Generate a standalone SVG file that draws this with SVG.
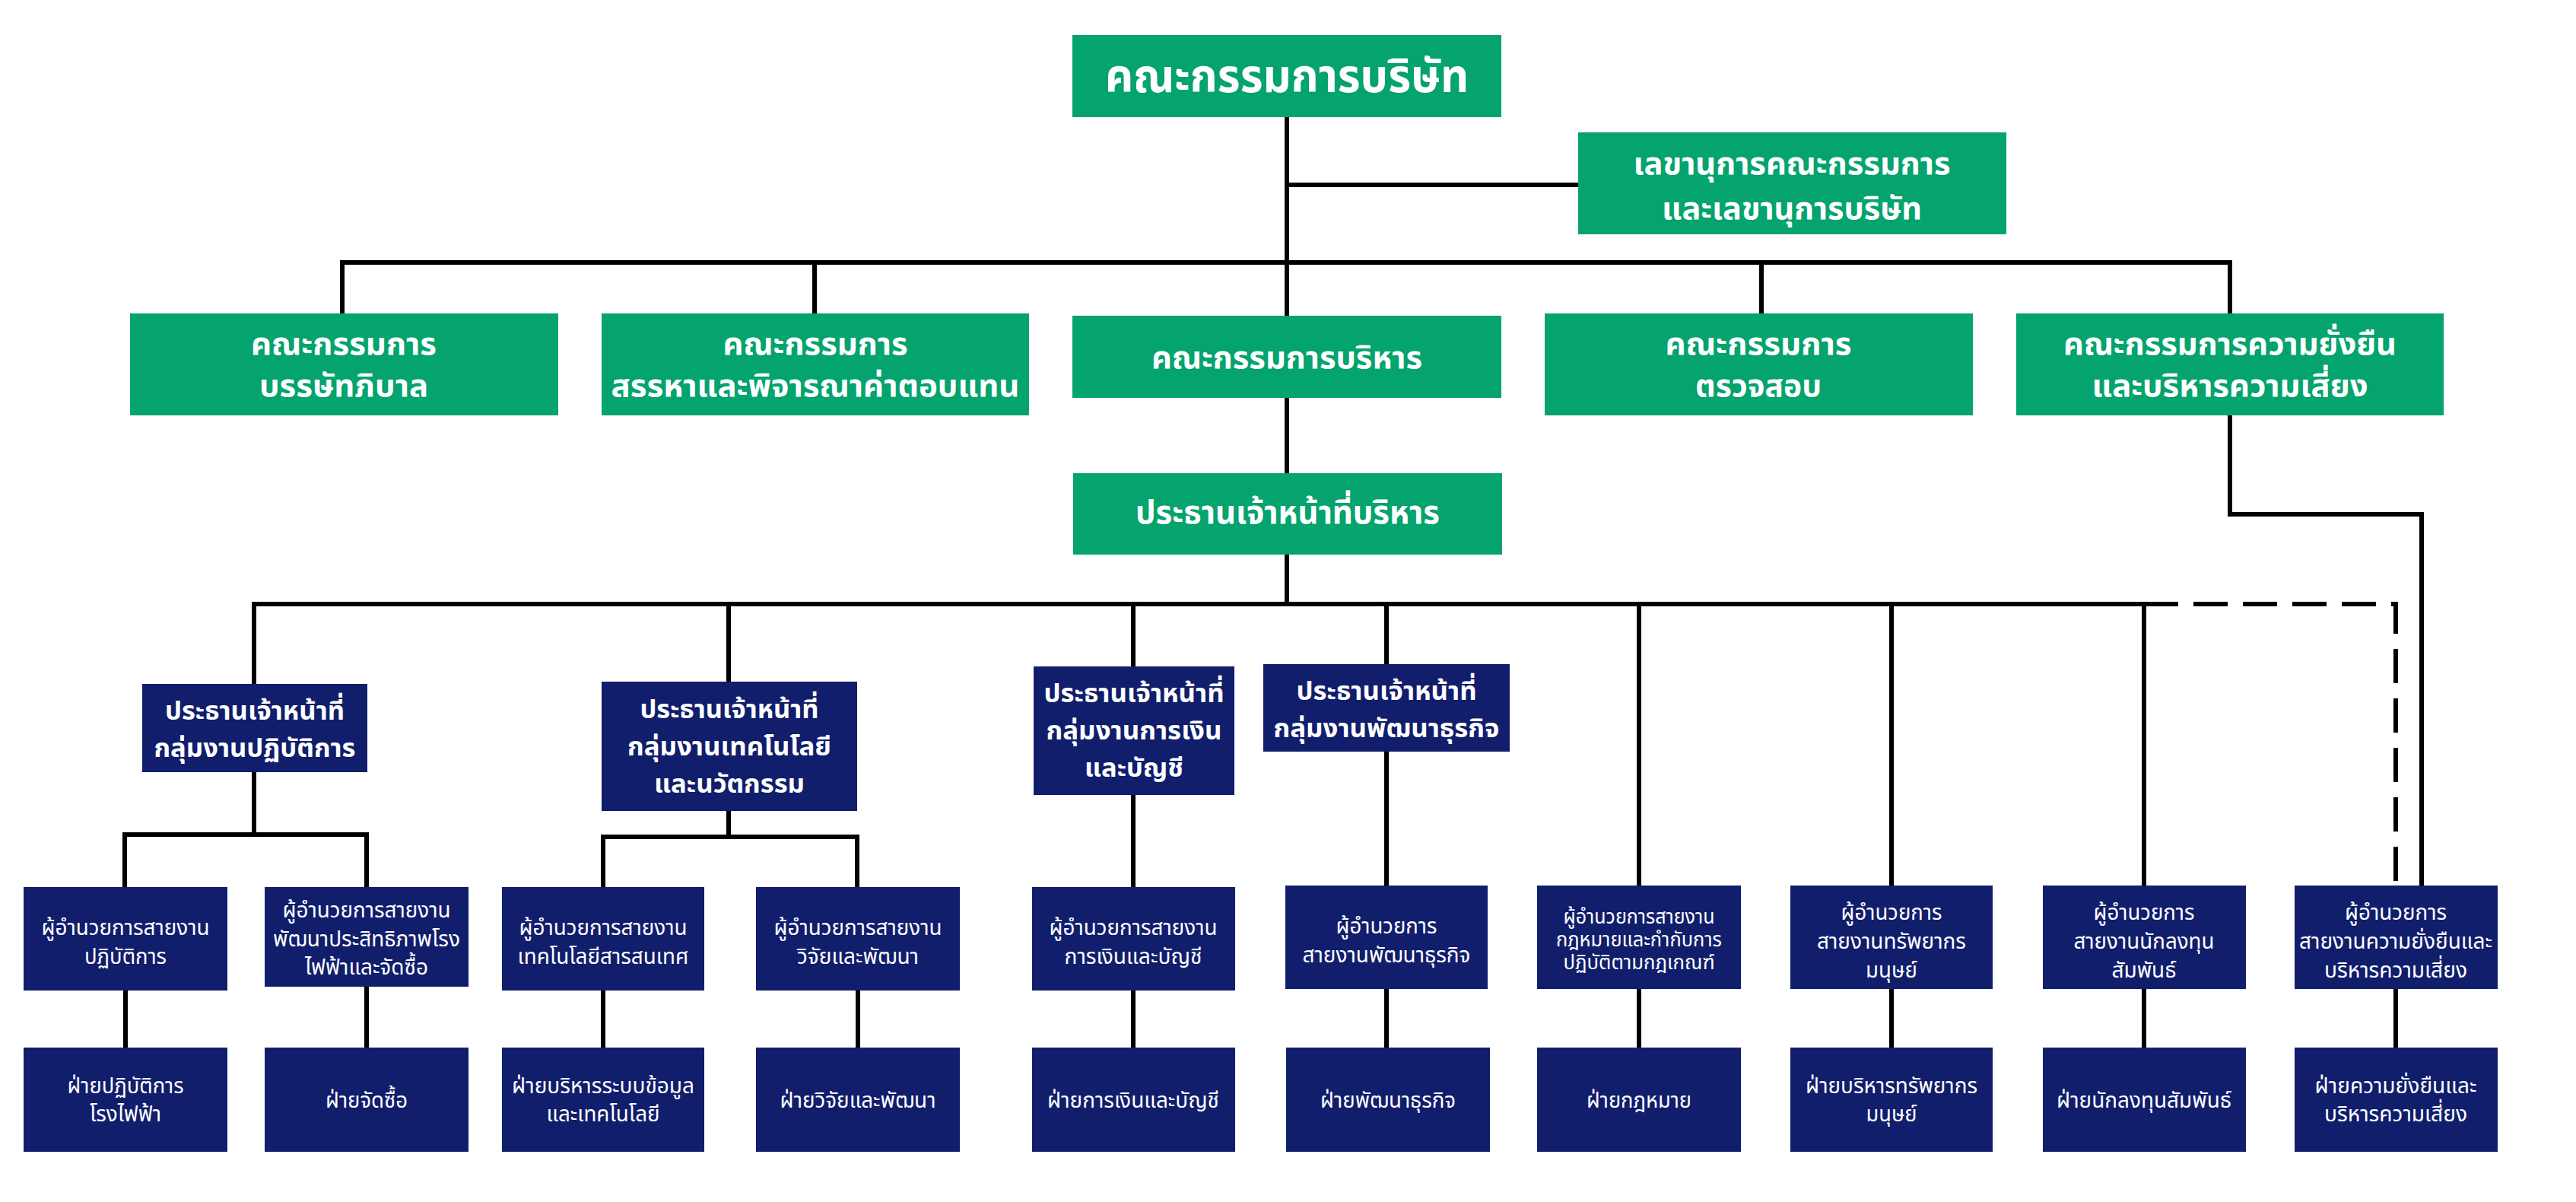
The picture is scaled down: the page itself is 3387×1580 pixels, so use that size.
<svg xmlns="http://www.w3.org/2000/svg" width="3387" height="1580" viewBox="0 0 3387 1580">
<style>
.bg{fill:#ffffff}
.g{fill:#05A36E}
.n{fill:#111E6C}
.t{fill:#ffffff;font-family:'Noto Sans Thai','Noto Sans Thai UI','Noto Sans','DejaVu Sans',sans-serif;text-anchor:middle}
.b{font-weight:bold}
.ln{fill:none;stroke:#000;stroke-width:6;stroke-linecap:square}
.dash{fill:none;stroke:#000;stroke-width:6;stroke-dasharray:45 20}
</style>
<rect class="bg" x="0" y="0" width="3387" height="1580"/>
<g id="connectors">
<path class="ln" d="M1692 154V415M1692 243H2075M450 345H2932M450 345V412M1071 345V412M2316 345V412M2932 345V412M1692 523V622M1692 729V794M334 794H2819M334 794V899M958 794V896M1490 794V876M1823 794V873M2155 794V1164M2487 794V1164M2819 794V1164"/>
<path class="dash" d="M2819 794H3150V1164"/>
<path class="ln" d="M2932 546V676H3184V1164"/>
<path class="ln" d="M334 1015V1097M164 1097H482M164 1097V1166M482 1097V1166M958 1066V1100M793 1100H1127M793 1100V1166M1127 1100V1166M1490 1045V1166M1823 988V1164"/>
<path class="ln" d="M165 1302V1377M482 1297V1377M793 1302V1377M1128 1302V1377M1490 1302V1377M1823 1300V1377M2155 1300V1377M2487 1300V1377M2819 1300V1377M3150 1300V1377"/>
</g>
<g id="board"><rect class="g" x="1410" y="46" width="564" height="108"/><text class="t b" x="1692" y="121" font-size="60" textLength="478" lengthAdjust="spacingAndGlyphs">คณะกรรมการบริษัท</text></g>
<g id="secretary"><rect class="g" x="2075" y="174" width="563" height="134"/><text class="t b" x="2356" y="229" font-size="40" textLength="417" lengthAdjust="spacingAndGlyphs">เลขานุการคณะกรรมการ</text><text class="t b" x="2356" y="288" font-size="40" textLength="342" lengthAdjust="spacingAndGlyphs">และเลขานุการบริษัท</text></g>
<g id="cg"><rect class="g" x="171" y="412" width="563" height="134"/><text class="t b" x="452" y="466" font-size="40" textLength="244" lengthAdjust="spacingAndGlyphs">คณะกรรมการ</text><text class="t b" x="452" y="521" font-size="40" textLength="222" lengthAdjust="spacingAndGlyphs">บรรษัทภิบาล</text></g>
<g id="nomination"><rect class="g" x="791" y="412" width="562" height="134"/><text class="t b" x="1072" y="466" font-size="40" textLength="243" lengthAdjust="spacingAndGlyphs">คณะกรรมการ</text><text class="t b" x="1072" y="521" font-size="40" textLength="537" lengthAdjust="spacingAndGlyphs">สรรหาและพิจารณาค่าตอบแทน</text></g>
<g id="exec"><rect class="g" x="1410" y="415" width="564" height="108"/><text class="t b" x="1692" y="484" font-size="40" textLength="356" lengthAdjust="spacingAndGlyphs">คณะกรรมการบริหาร</text></g>
<g id="audit"><rect class="g" x="2031" y="412" width="563" height="134"/><text class="t b" x="2312" y="466" font-size="40" textLength="245" lengthAdjust="spacingAndGlyphs">คณะกรรมการ</text><text class="t b" x="2312" y="521" font-size="40" textLength="166" lengthAdjust="spacingAndGlyphs">ตรวจสอบ</text></g>
<g id="sustain-committee"><rect class="g" x="2651" y="412" width="562" height="134"/><text class="t b" x="2932" y="466" font-size="40" textLength="438" lengthAdjust="spacingAndGlyphs">คณะกรรมการความยั่งยืน</text><text class="t b" x="2932" y="521" font-size="40" textLength="363" lengthAdjust="spacingAndGlyphs">และบริหารความเสี่ยง</text></g>
<g id="ceo"><rect class="g" x="1411" y="622" width="564" height="107"/><text class="t b" x="1693" y="688" font-size="42" textLength="400" lengthAdjust="spacingAndGlyphs">ประธานเจ้าหน้าที่บริหาร</text></g>
<g id="ceo-ops"><rect class="n" x="187" y="899" width="296" height="116"/><text class="t b" x="335" y="946" font-size="34" textLength="236" lengthAdjust="spacingAndGlyphs">ประธานเจ้าหน้าที่</text><text class="t b" x="335" y="995" font-size="34" textLength="265" lengthAdjust="spacingAndGlyphs">กลุ่มงานปฏิบัติการ</text></g>
<g id="ceo-tech"><rect class="n" x="791" y="896" width="336" height="170"/><text class="t b" x="959" y="944" font-size="34" textLength="235" lengthAdjust="spacingAndGlyphs">ประธานเจ้าหน้าที่</text><text class="t b" x="959" y="993" font-size="34" textLength="268" lengthAdjust="spacingAndGlyphs">กลุ่มงานเทคโนโลยี</text><text class="t b" x="959" y="1042" font-size="34" textLength="198" lengthAdjust="spacingAndGlyphs">และนวัตกรรม</text></g>
<g id="ceo-fin"><rect class="n" x="1359" y="876" width="264" height="169"/><text class="t b" x="1491" y="923" font-size="34" textLength="237" lengthAdjust="spacingAndGlyphs">ประธานเจ้าหน้าที่</text><text class="t b" x="1491" y="972" font-size="34" textLength="231" lengthAdjust="spacingAndGlyphs">กลุ่มงานการเงิน</text><text class="t b" x="1491" y="1021" font-size="34" textLength="130" lengthAdjust="spacingAndGlyphs">และบัญชี</text></g>
<g id="ceo-biz"><rect class="n" x="1661" y="873" width="324" height="115"/><text class="t b" x="1823" y="920" font-size="34" textLength="237" lengthAdjust="spacingAndGlyphs">ประธานเจ้าหน้าที่</text><text class="t b" x="1823" y="969" font-size="34" textLength="297" lengthAdjust="spacingAndGlyphs">กลุ่มงานพัฒนาธุรกิจ</text></g>
<g id="dir-ops"><rect class="n" x="31" y="1166" width="268" height="136"/><text class="t" x="165" y="1229" font-size="29" textLength="221" lengthAdjust="spacingAndGlyphs">ผู้อำนวยการสายงาน</text><text class="t" x="165" y="1267" font-size="29" textLength="108" lengthAdjust="spacingAndGlyphs">ปฏิบัติการ</text></g>
<g id="dir-eff"><rect class="n" x="348" y="1166" width="268" height="131"/><text class="t" x="482" y="1206" font-size="29" textLength="221" lengthAdjust="spacingAndGlyphs">ผู้อำนวยการสายงาน</text><text class="t" x="482" y="1244" font-size="29" textLength="246" lengthAdjust="spacingAndGlyphs">พัฒนาประสิทธิภาพโรง</text><text class="t" x="482" y="1281" font-size="29" textLength="162" lengthAdjust="spacingAndGlyphs">ไฟฟ้าและจัดซื้อ</text></g>
<g id="dir-it"><rect class="n" x="660" y="1166" width="266" height="136"/><text class="t" x="793" y="1229" font-size="29" textLength="221" lengthAdjust="spacingAndGlyphs">ผู้อำนวยการสายงาน</text><text class="t" x="793" y="1267" font-size="29" textLength="225" lengthAdjust="spacingAndGlyphs">เทคโนโลยีสารสนเทศ</text></g>
<g id="dir-rd"><rect class="n" x="994" y="1166" width="268" height="136"/><text class="t" x="1128" y="1229" font-size="29" textLength="221" lengthAdjust="spacingAndGlyphs">ผู้อำนวยการสายงาน</text><text class="t" x="1128" y="1267" font-size="29" textLength="160" lengthAdjust="spacingAndGlyphs">วิจัยและพัฒนา</text></g>
<g id="dir-fin"><rect class="n" x="1357" y="1166" width="267" height="136"/><text class="t" x="1490" y="1229" font-size="29" textLength="221" lengthAdjust="spacingAndGlyphs">ผู้อำนวยการสายงาน</text><text class="t" x="1490" y="1267" font-size="29" textLength="181" lengthAdjust="spacingAndGlyphs">การเงินและบัญชี</text></g>
<g id="dir-biz"><rect class="n" x="1690" y="1164" width="266" height="136"/><text class="t" x="1823" y="1227" font-size="29" textLength="133" lengthAdjust="spacingAndGlyphs">ผู้อำนวยการ</text><text class="t" x="1823" y="1265" font-size="29" textLength="221" lengthAdjust="spacingAndGlyphs">สายงานพัฒนาธุรกิจ</text></g>
<g id="dir-legal"><rect class="n" x="2021" y="1164" width="268" height="136"/><text class="t" x="2155" y="1214" font-size="27" textLength="199" lengthAdjust="spacingAndGlyphs">ผู้อำนวยการสายงาน</text><text class="t" x="2155" y="1244" font-size="27" textLength="218" lengthAdjust="spacingAndGlyphs">กฎหมายและกำกับการ</text><text class="t" x="2155" y="1274" font-size="27" textLength="199" lengthAdjust="spacingAndGlyphs">ปฏิบัติตามกฎเกณฑ์</text></g>
<g id="dir-hr"><rect class="n" x="2354" y="1164" width="266" height="136"/><text class="t" x="2487" y="1209" font-size="29" textLength="133" lengthAdjust="spacingAndGlyphs">ผู้อำนวยการ</text><text class="t" x="2487" y="1247" font-size="29" textLength="196" lengthAdjust="spacingAndGlyphs">สายงานทรัพยากร</text><text class="t" x="2487" y="1285" font-size="29" textLength="68" lengthAdjust="spacingAndGlyphs">มนุษย์</text></g>
<g id="dir-ir"><rect class="n" x="2686" y="1164" width="267" height="136"/><text class="t" x="2819" y="1209" font-size="29" textLength="133" lengthAdjust="spacingAndGlyphs">ผู้อำนวยการ</text><text class="t" x="2819" y="1247" font-size="29" textLength="185" lengthAdjust="spacingAndGlyphs">สายงานนักลงทุน</text><text class="t" x="2819" y="1285" font-size="29" textLength="85" lengthAdjust="spacingAndGlyphs">สัมพันธ์</text></g>
<g id="dir-sus"><rect class="n" x="3017" y="1164" width="267" height="136"/><text class="t" x="3150" y="1209" font-size="29" textLength="134" lengthAdjust="spacingAndGlyphs">ผู้อำนวยการ</text><text class="t" x="3150" y="1247" font-size="29" textLength="254" lengthAdjust="spacingAndGlyphs">สายงานความยั่งยืนและ</text><text class="t" x="3150" y="1285" font-size="29" textLength="188" lengthAdjust="spacingAndGlyphs">บริหารความเสี่ยง</text></g>
<g id="dept-ops"><rect class="n" x="31" y="1377" width="268" height="137"/><text class="t" x="165" y="1437" font-size="29" textLength="153" lengthAdjust="spacingAndGlyphs">ฝ่ายปฏิบัติการ</text><text class="t" x="165" y="1474" font-size="29" textLength="94" lengthAdjust="spacingAndGlyphs">โรงไฟฟ้า</text></g>
<g id="dept-proc"><rect class="n" x="348" y="1377" width="268" height="137"/><text class="t" x="482" y="1456" font-size="29" textLength="108" lengthAdjust="spacingAndGlyphs">ฝ่ายจัดซื้อ</text></g>
<g id="dept-it"><rect class="n" x="660" y="1377" width="266" height="137"/><text class="t" x="793" y="1437" font-size="29" textLength="240" lengthAdjust="spacingAndGlyphs">ฝ่ายบริหารระบบข้อมูล</text><text class="t" x="793" y="1474" font-size="29" textLength="149" lengthAdjust="spacingAndGlyphs">และเทคโนโลยี</text></g>
<g id="dept-rd"><rect class="n" x="994" y="1377" width="268" height="137"/><text class="t" x="1128" y="1456" font-size="29" textLength="205" lengthAdjust="spacingAndGlyphs">ฝ่ายวิจัยและพัฒนา</text></g>
<g id="dept-fin"><rect class="n" x="1357" y="1377" width="267" height="137"/><text class="t" x="1490" y="1456" font-size="29" textLength="226" lengthAdjust="spacingAndGlyphs">ฝ่ายการเงินและบัญชี</text></g>
<g id="dept-biz"><rect class="n" x="1691" y="1377" width="268" height="137"/><text class="t" x="1825" y="1456" font-size="29" textLength="178" lengthAdjust="spacingAndGlyphs">ฝ่ายพัฒนาธุรกิจ</text></g>
<g id="dept-legal"><rect class="n" x="2021" y="1377" width="268" height="137"/><text class="t" x="2155" y="1456" font-size="29" textLength="138" lengthAdjust="spacingAndGlyphs">ฝ่ายกฎหมาย</text></g>
<g id="dept-hr"><rect class="n" x="2354" y="1377" width="266" height="137"/><text class="t" x="2487" y="1437" font-size="29" textLength="226" lengthAdjust="spacingAndGlyphs">ฝ่ายบริหารทรัพยากร</text><text class="t" x="2487" y="1474" font-size="29" textLength="67" lengthAdjust="spacingAndGlyphs">มนุษย์</text></g>
<g id="dept-ir"><rect class="n" x="2686" y="1377" width="267" height="137"/><text class="t" x="2819" y="1456" font-size="29" textLength="230" lengthAdjust="spacingAndGlyphs">ฝ่ายนักลงทุนสัมพันธ์</text></g>
<g id="dept-sus"><rect class="n" x="3017" y="1377" width="267" height="137"/><text class="t" x="3150" y="1437" font-size="29" textLength="213" lengthAdjust="spacingAndGlyphs">ฝ่ายความยั่งยืนและ</text><text class="t" x="3150" y="1474" font-size="29" textLength="188" lengthAdjust="spacingAndGlyphs">บริหารความเสี่ยง</text></g>
</svg>
